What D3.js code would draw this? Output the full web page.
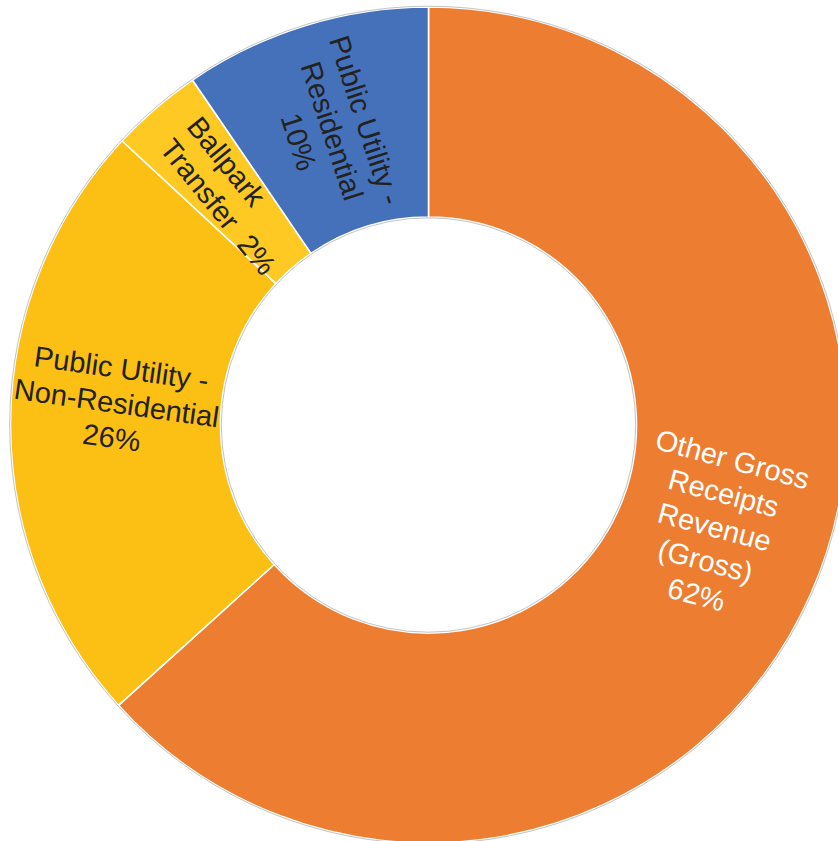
<!DOCTYPE html>
<html>
<head>
<meta charset="utf-8">
<script src="https://cdn.jsdelivr.net/npm/d3@7"></script>
<style>
  html, body { margin: 0; padding: 0; background: #fff; }
  svg { display: block; }
  text { font-family: "Liberation Sans", Arial, sans-serif; white-space: pre; }
</style>
</head>
<body>
<svg id="chart" width="838" height="841"></svg>
<script>
// ---- data ----
const categories = [
  "Other Gross Receipts Revenue (Gross)",
  "Public Utility - Non-Residential",
  "Ballpark Transfer",
  "Public Utility - Residential"
];
const shares = [63.3, 23.6, 3.55, 9.55];
const labelLines = [
  ["Other Gross", "Receipts", "Revenue", "(Gross)", "62%"],
  ["Public Utility -", "Non-Residential", "26%"],
  ["Ballpark", "Transfer  2%"],
  ["Public Utility -", "Residential", "10%"]
];
const colors = ["#ED7D31", "#FCBF14", "#FEC922", "#4571BA"];
const textColors = ["#ffffff", "#222222", "#222222", "#222222"];

// ---- layout (style) ----
const W = 838, H = 841;
const cx = 428.5, cy = 425;
const R = 418, r = 208;
const labelStyle = [
  { dx: 0, dy: -25, rot: 15, align: "middle" },
  { dx: 1, dy: -20, rot: 8, align: "middle" },
  { dx: 6, dy: 6, rot: 51, align: "start", halfW: 80 },
  { dx: -4, dy: 5, rot: 72, align: "middle" }
];
const fontSize = 29, lineH = 35;

const data = categories.map((c, i) => ({ cat: c, value: shares[i], i }));

const svg = d3.select("#chart");
const g = svg.append("g").attr("transform", `translate(${cx},${cy})`);

const pie = d3.pie().value(d => d.value).sort(null).startAngle(0).endAngle(2 * Math.PI);
const arc = d3.arc().innerRadius(r).outerRadius(R);
const arcs = pie(data);

g.selectAll("path.slice")
  .data(arcs)
  .join("path")
  .attr("class", "slice")
  .attr("d", arc)
  .attr("fill", d => colors[d.data.i])
  .attr("stroke", "#ffffff")
  .attr("stroke-width", 1.6)
  .attr("stroke-linejoin", "round");

// thin grey outlines
g.append("circle").attr("r", R + 0.8).attr("fill", "none").attr("stroke", "#c4c4c4").attr("stroke-width", 1);
g.append("circle").attr("r", r - 0.8).attr("fill", "none").attr("stroke", "#c4c4c4").attr("stroke-width", 1);

// labels
const labels = g.selectAll("text.lbl")
  .data(arcs)
  .join("text")
  .attr("class", "lbl")
  .attr("font-size", fontSize)
  .attr("fill", d => textColors[d.data.i])
  .attr("text-anchor", d => labelStyle[d.data.i].align)
  .attr("transform", d => {
    const [x, y] = arc.centroid(d);
    const s = labelStyle[d.data.i];
    return `translate(${x + s.dx},${y + s.dy}) rotate(${s.rot})`;
  });

labels.each(function(d) {
  const lines = labelLines[d.data.i];
  const s = labelStyle[d.data.i];
  const n = lines.length;
  d3.select(this).selectAll("tspan")
    .data(lines)
    .join("tspan")
    .attr("x", s.align === "start" ? -s.halfW : 0)
    .attr("y", (t, k) => (k - (n - 1) / 2) * lineH + 10)
    .text(t => t);
});
</script>
</body>
</html>
